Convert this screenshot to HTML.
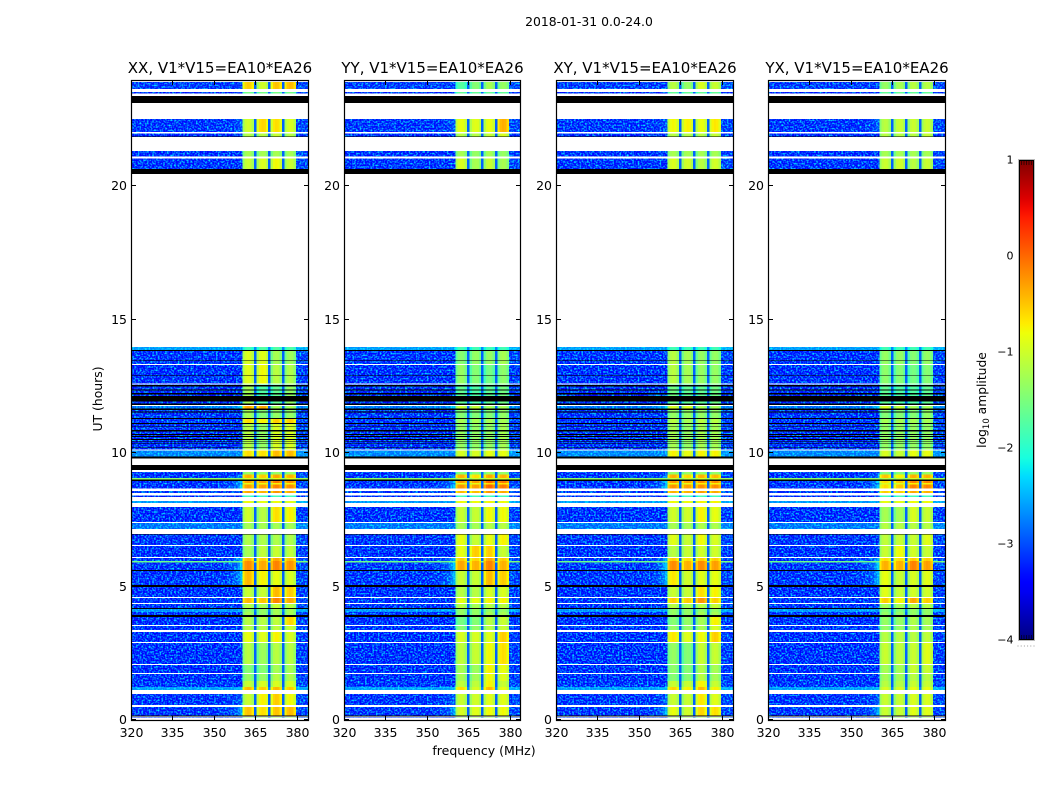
<!DOCTYPE html>
<html>
<head>
<meta charset="utf-8">
<title>2018-01-31 amplitude waterfall</title>
<style>
html,body{margin:0;padding:0;background:#fff;width:1050px;height:800px;overflow:hidden}
svg{display:block}
text{font-family:"DejaVu Sans","Liberation Sans",sans-serif;fill:#000}
</style>
</head>
<body>
<svg id="figure" xmlns="http://www.w3.org/2000/svg" width="1050" height="800" viewBox="0 0 1050 800">
<defs>
<filter id="speckle0" x="0" y="0" width="100%" height="100%" color-interpolation-filters="sRGB"><feTurbulence type="fractalNoise" baseFrequency="0.55 0.6" numOctaves="1" seed="3"/><feColorMatrix type="matrix" values="0 0 0 0 0  2.6 0 0 0 -1.1  0 0 0 0 0  0 0 0 0 1"/></filter>
<filter id="speckle1" x="0" y="0" width="100%" height="100%" color-interpolation-filters="sRGB"><feTurbulence type="fractalNoise" baseFrequency="0.55 0.6" numOctaves="1" seed="11"/><feColorMatrix type="matrix" values="0 0 0 0 0  2.6 0 0 0 -1.1  0 0 0 0 0  0 0 0 0 1"/></filter>
<filter id="speckle2" x="0" y="0" width="100%" height="100%" color-interpolation-filters="sRGB"><feTurbulence type="fractalNoise" baseFrequency="0.55 0.6" numOctaves="1" seed="23"/><feColorMatrix type="matrix" values="0 0 0 0 0  2.6 0 0 0 -1.1  0 0 0 0 0  0 0 0 0 1"/></filter>
<filter id="speckle3" x="0" y="0" width="100%" height="100%" color-interpolation-filters="sRGB"><feTurbulence type="fractalNoise" baseFrequency="0.55 0.6" numOctaves="1" seed="37"/><feColorMatrix type="matrix" values="0 0 0 0 0  2.6 0 0 0 -1.1  0 0 0 0 0  0 0 0 0 1"/></filter>
</defs>
<text x="589" y="26" font-size="12.4" text-anchor="middle">2018-01-31 0.0-24.0</text>
<text x="484" y="755" font-size="12.5" text-anchor="middle">frequency (MHz)</text>
<text x="0" y="0" font-size="12.4" text-anchor="middle" transform="translate(102,399) rotate(-90)">UT (hours)</text>
<text x="0" y="0" font-size="12.3" text-anchor="middle" transform="translate(986,400) rotate(-90)">log<tspan font-size="8.5" dy="3">10</tspan><tspan dy="-3"> amplitude</tspan></text>
<g id="panels"></g>
<g id="colorbar"></g>
</svg>
<script>
// ---- labels and ticks ----
const panelTitles = ["XX, V1*V15=EA10*EA26", "YY, V1*V15=EA10*EA26", "XY, V1*V15=EA10*EA26", "YX, V1*V15=EA10*EA26"];
const freqTicks = [320, 335, 350, 365, 380];
const timeTicks = [0, 5, 10, 15, 20];
const colorTicks = [-4, -3, -2, -1, 0, 1];

// ---- time rows holding data: [start hour, end hour] ----
const rowSpans = [
[.07,.10],[.16,.49],[.56,.97],[1.12,1.24],[1.24,1.46],[1.46,1.72],[1.76,2.06],[2.10,2.88],
[2.92,3.30],[3.37,3.52],[3.56,3.86],[3.93,4.04],[4.05,4.15],[4.19,4.34],[4.38,4.57],[4.61,4.98],
[5.06,5.58],[5.62,5.90],[5.90,5.95],[5.95,6.07],[6.10,6.52],[6.55,6.95],[7.15,7.38],[7.42,7.98],
[8.13,8.20],[8.35,8.41],[8.50,8.57],[8.68,8.82],[8.82,8.87],[8.87,8.95],[9.00,9.07],[9.07,9.20],
[9.20,9.29],[9.87,10.10],[10.14,11.09],[11.09,11.31],[11.31,11.67],[11.67,11.76],[11.80,12.57],[12.60,13.30],
[13.34,13.82],[13.86,13.97],[20.64,21.03],[21.10,21.31],[21.85,21.96],[22.02,22.51],[23.46,23.52],[23.63,23.90]];

// ---- log10 amplitude of the off-band background per row ----
const rowBackground = [
-3.3,-3.35,-3.35,-2.7,-3.35,-3.4,-3.4,-3.4,
-3.4,-3.35,-3.4,-3.35,-2.75,-3.35,-3.35,-3.4,
-3.35,-3.35,-1.6,-3.35,-3.4,-3.35,-2.95,-3.4,
-2.75,-3.45,-3.3,-3.35,-3.35,-3.35,-1.4,-3.35,
-3.35,-2.85,-3.35,-3.35,-3.35,-2.95,-3.35,-3.4,
-3.35,-2.7,-3.35,-3.35,-3.4,-3.35,-3.4,-3.3];

// ---- rise of the background next to the bands per row ----
const rowSkirt = [
0,.8,.3,.2,0,0,0,0,
0,0,0,0,0,0,0,0,
.9,1.1,0,.9,0,0,0,0,
0,0,0,1.1,.6,1.1,0,.5,
0,0,0,0,0,.6,0,0,
0,0,0,0,0,.3,0,0];

// ---- log10 amplitude of the four bands per row, one array per correlation ----
const bandsXX = [
[-1.2,-1.2,-1.2,-1.2],[-.45,-.6,-.45,-.4],[-1,-.7,-.5,-.75],[-.4,-.5,-.4,-.5],[-1,-.9,-.9,-.9],[-1.3,-1.3,-1.1,-1.15],[-1.4,-1.4,-1.2,-1.2],[-1.1,-1.25,-1.1,-1.1],
[-.8,-.85,-.7,-.9],[-1.1,-1.1,-1.05,-1],[-1.1,-1.1,-1.05,-.55],[-1.2,-1.3,-1.2,-1.2],[-1.3,-1.3,-1.2,-1.2],[-1.1,-1.2,-1,-1.1],[-.4,-.45,-.1,-.3],[-1,-1,-.4,-.5],
[-.4,-.7,-.8,-.9],[-.15,-.3,-.1,-.2],[-.15,-.3,-.1,-.2],[-.4,-.5,-.3,-.4],[-1.2,-1.05,-1,-1.05],[-1.15,-1.15,-1.15,-1.15],[-1.2,-1.2,-1.2,-1.2],[-.95,-1.1,-.6,-.7],
[-.75,-.8,-.75,-.8],[-1.8,-1.8,-1.8,-1.8],[-.3,-.35,-.2,-.3],[-.25,-.25,-.1,-.15],[-.8,-.8,-.7,-.7],[-.25,-.25,-.05,-.15],[-.9,-.9,-.8,-.8],[-.35,-.5,-.3,-.35],
[-1.3,-1.3,-1.3,-1.3],[-.6,-.6,-.4,-.4],[-1.1,-1.3,-.9,-.9],[-.6,-.7,-.5,-.5],[-1.2,-1.4,-1.3,-1.3],[-.3,-.3,-1.2,-1.2],[-1.2,-1.7,-1.6,-1.3],[-.85,-.75,-1.1,-1.15],
[-.9,-.85,-1.2,-1.25],[-1.8,-1.7,-1.7,-1.7],[-1,-.9,-.75,-1],[-1.2,-1.2,-1.2,-1.2],[-1.1,-1.1,-1,-1.1],[-.95,-.55,-.6,-.9],[-1.5,-1.5,-1.5,-1.5],[-.5,-.95,-.45,-.4]];
const bandsYY = [
[-1.2,-1.2,-1.2,-1.2],[-.9,-.85,-.75,-.75],[-1,-.95,-.85,-.85],[-.6,-.9,-.4,-.8],[-1.05,-1.05,-.7,-1],[-1.2,-1.2,-.75,-.85],[-1.2,-1.25,-.7,-.8],[-1.05,-1,-.75,-.6],
[-.9,-.9,-.85,-.5],[-1.4,-1.3,-1.1,-1],[-1.5,-1.4,-1.1,-1],[-1.3,-1.3,-1.2,-1.2],[-1.3,-1.3,-1.3,-1.3],[-1.1,-1.2,-1.1,-1.1],[-.8,-.8,-.7,-.7],[-1.1,-1.1,-.9,-.9],
[-1,-1,-.4,-.5],[-.3,-.35,-.1,-.35],[-.3,-.35,-.1,-.35],[-.5,-.55,-.3,-.5],[-.8,-.5,-.5,-1],[-.8,-1,-.8,-.7],[-1.2,-1.2,-1.1,-1.1],[-1,-1,-.75,-.75],
[-.75,-.75,-.7,-.75],[-1.8,-1.8,-1.8,-1.8],[-.4,-.4,-.2,-.3],[-.2,-.25,.05,-.05],[-.8,-.8,-.6,-.6],[-.2,-.25,.05,-.05],[-1,-1,-.9,-.9],[-.35,-.6,-.3,-.35],
[-1.4,-1.4,-1.3,-1.3],[-.9,-.9,-.8,-.8],[-1.3,-1.3,-1.3,-1.2],[-1.2,-1.2,-1.2,-1.2],[-1.4,-1.4,-1.4,-1.3],[-1,-1,-1.2,-1.2],[-1.6,-1.7,-1.6,-1.5],[-1.3,-1.4,-1.5,-1.35],
[-1.4,-1.3,-1.3,-1.2],[-1.8,-1.8,-1.8,-1.8],[-.9,-1.2,-1,-1.2],[-1.2,-1.3,-1.2,-1.3],[-1.1,-1.1,-1,-.9],[-.8,-.85,-.8,-.35],[-1.6,-1.6,-1.6,-1.6],[-1.7,-1.4,-1.2,-1.3]];
const bandsXY = [
[-1.2,-1.2,-1.2,-1.2],[-.8,-.95,-.55,-.6],[-1,-1,-.65,-.85],[-.55,-.7,-.4,-.7],[-1,-1,-.7,-1],[-1.4,-1.4,-1.1,-1.2],[-1.35,-1.4,-1.15,-1.2],[-1.3,-1.4,-1,-1],
[-.65,-.85,-.75,-.5],[-1.3,-1.3,-1.2,-.9],[-1.4,-1.3,-1.2,-.7],[-1.3,-1.3,-1.2,-1.2],[-1.3,-1.3,-1.3,-1.3],[-1.1,-1.2,-1.1,-1],[-.5,-.5,-.2,-.5],[-1,-1,-.6,-.7],
[-.65,-.95,-.85,-.8],[-.15,-.35,-.15,-.25],[-.15,-.35,-.15,-.25],[-.5,-.6,-.5,-.5],[-1.1,-1,-.95,-.95],[-.85,-1,-.75,-.9],[-1.2,-1.2,-1.15,-1.15],[-.95,-.95,-.7,-.8],
[-.75,-.75,-.7,-.7],[-1.8,-1.8,-1.8,-1.8],[-.35,-.35,-.25,-.3],[-.2,-.25,-.15,-.15],[-.8,-.8,-.7,-.7],[-.2,-.25,-.15,-.15],[-1,-1,-.9,-.9],[-.35,-.55,-.35,-.4],
[-1.3,-1.3,-1.3,-1.3],[-.7,-.8,-.7,-.7],[-1.2,-1.3,-1.2,-1.2],[-1.1,-1.2,-1.1,-1.1],[-1.3,-1.3,-1.3,-1.3],[-.9,-.9,-1.2,-1.2],[-1.5,-1.6,-1.6,-1.5],[-1.1,-1.2,-1.3,-1.3],
[-1.1,-1.2,-1.3,-1.3],[-1.8,-1.8,-1.8,-1.8],[-.9,-.95,-1.1,-.95],[-1.2,-1.2,-1.2,-1.2],[-1.1,-1.1,-1.1,-1],[-.75,-.7,-.8,-.65],[-1.6,-1.6,-1.6,-1.6],[-1.1,-1.3,-.9,-1]];
const bandsYX = [
[-1.2,-1.2,-1.2,-1.2],[-1,-1,-.85,-.85],[-1,-1,-.9,-.9],[-.9,-.9,-.8,-.8],[-1.1,-1.1,-1,-1],[-1.2,-1.2,-1.1,-1.1],[-1.2,-1.2,-1,-1],[-1,-1.05,-1,-.85],
[-1.1,-1.1,-1.1,-1.05],[-1.3,-1.3,-1.15,-1.2],[-1.3,-1.3,-1.15,-1.2],[-1.3,-1.3,-1.3,-1.3],[-1.4,-1.4,-1.3,-1.3],[-1.2,-1.2,-1.1,-1.1],[-.5,-.7,-.3,-.5],[-.85,-1,-.95,-.95],
[-.8,-1,-.9,-.85],[-.35,-.35,-.1,-.25],[-.35,-.35,-.1,-.25],[-.6,-.6,-.5,-.5],[-1,-.75,-.95,-1],[-1.05,-1,-1,-.85],[-1.1,-1.1,-1.1,-1.1],[-1.2,-1.2,-.9,-1],
[-.8,-.8,-.75,-.75],[-1.8,-1.8,-1.8,-1.8],[-.5,-.5,-.3,-.35],[-.6,-.45,-.1,-.1],[-.9,-.9,-.7,-.7],[-.6,-.45,-.1,-.1],[-1.1,-1.1,-.9,-.9],[-.45,-.7,-.35,-.35],
[-1.4,-1.4,-1.3,-1.3],[-.9,-1,-.8,-.8],[-1.3,-1.3,-1.3,-1.3],[-1.2,-1.2,-1.2,-1.2],[-1.4,-1.4,-1.4,-1.3],[-.9,-1,-1.2,-1.2],[-1.6,-1.7,-1.7,-1.6],[-1.35,-1.4,-1.5,-1.4],
[-1.3,-1.3,-1.4,-1.3],[-1.8,-1.8,-1.8,-1.8],[-1,-.95,-1.1,-1],[-1.2,-1.2,-1.2,-1.2],[-1.1,-1.1,-1.1,-1],[-1.1,-1,-1,-1],[-1.6,-1.6,-1.6,-1.6],[-1.3,-1.2,-1.1,-1.1]];
const panelBands = [bandsXX, bandsYY, bandsXY, bandsYX];

// ---- flagged (black) time ranges: [start hour, end hour] ----
const flaggedRows = [
[.13,.165],[3.86,3.93],[4.04,4.05],[4.15,4.19],[4.98,5.06],[5.58,5.62],[6.95,6.97],[8.95,9],
[9.36,9.55],[9.8,9.87],[10.19,10.21],[10.34,10.36],[10.41,10.43],[10.49,10.52],[10.6,10.63],[10.67,10.71],
[10.8,10.86],[10.97,11],[11.09,11.12],[11.27,11.31],[11.51,11.55],[11.61,11.67],[11.8,11.85],[11.92,12.13],
[12.2,12.24],[12.34,12.38],[12.5,12.54],[12.9,12.93],[13.44,13.47],[13.82,13.86],[20.45,20.64],[21.83,21.85],[23.1,23.37]];

// ---- spectral structure in MHz and level profiles ----
const bandStarts = [360.3, 365.45, 370.45, 375.45];
const bandProfile = [-.35, -.08, -.02, -.05, -.25];
const skirtEdges = [320, 352, 355, 357, 358.5, 359.5, 360.3];
const skirtProfile = [0, .05, .15, .3, .55, .85];
const gapLevel = -2.9;
const bandWidth = 4.15;

// ---- axis functions ----
const NS = "http://www.w3.org/2000/svg";
const panelLefts = [131, 344, 556, 768];
const panelWidths = [177, 176, 177, 177];
const plotTop = 81, plotBottom = 720;
const pxPerMHz = 2.765, pxPerHour = 26.7;
function xScale(freq, left) { return left + (freq - 320) * pxPerMHz; }
function yScale(hour) { return plotBottom - hour * pxPerHour; }
function jetPiece(t, pts) {
  for (let i = 1; i < pts.length; i++) {
    if (t <= pts[i][0]) {
      const a = pts[i - 1], b = pts[i];
      return a[1] + (b[1] - a[1]) * (t - a[0]) / (b[0] - a[0]);
    }
  }
  return pts[pts.length - 1][1];
}
function jet(t) {
  t = Math.max(0, Math.min(1, t));
  const r = jetPiece(t, [[0,0],[.35,0],[.66,1],[.89,1],[1,.5]]);
  const g = jetPiece(t, [[0,0],[.125,0],[.375,1],[.64,1],[.91,0],[1,0]]);
  const b = jetPiece(t, [[0,.5],[.11,1],[.34,1],[.65,0],[1,0]]);
  return "rgb(" + Math.round(r * 255) + "," + Math.round(g * 255) + "," + Math.round(b * 255) + ")";
}
function colorFor(level) { return jet((level + 4) / 5); }
function make(tag, attrs, parent) {
  const el = document.createElementNS(NS, tag);
  for (const k in attrs) el.setAttribute(k, attrs[k]);
  parent.appendChild(el);
  return el;
}

function addCell(parent, left, f0, f1, h0, h1, level) {
  const x0 = xScale(f0, left), x1 = xScale(f1, left);
  const y0 = yScale(h1), y1 = yScale(h0);
  const cell = make("rect", {x: x0.toFixed(2), y: y0.toFixed(2), width: (x1 - x0).toFixed(2), height: (y1 - y0).toFixed(2), fill: colorFor(level)}, parent);
  
  
}

const panelsRoot = document.getElementById("panels");
panelTitles.forEach(function (title, p) {
  const left = panelLefts[p];
  const panelWidth = panelWidths[p];
  const bands = panelBands[p];
  const group = make("g", {}, panelsRoot);
  
  

  const heat = make("g", {"shape-rendering": "crispEdges", style: "isolation:isolate"}, group);
  
  

  const paper = make("rect", {x: left, y: plotTop, width: panelWidth, height: plotBottom - plotTop, fill: "#fff"}, heat);
  
  

  rowSpans.forEach(function (span, r) {
    const h0 = span[0], h1 = span[1];
    const bg = rowBackground[r], skirt = rowSkirt[r];
    for (let i = 0; i < skirtProfile.length; i++) {
      addCell(heat, left, skirtEdges[i], skirtEdges[i + 1], h0, h1, bg + skirt * skirtProfile[i]);
    }
    bandStarts.forEach(function (start, b) {
      const step = bandWidth / bandProfile.length;
      bandProfile.forEach(function (offset, c) {
        addCell(heat, left, start + c * step, start + (c + 1) * step, h0, h1, bands[r][b] + offset);
      });
      const gapEnd = b < bandStarts.length - 1 ? bandStarts[b + 1] : start + bandWidth;
      if (gapEnd > start + bandWidth) {
        addCell(heat, left, start + bandWidth, gapEnd, h0, h1, Math.max(gapLevel, bg));
      }
    });
    addCell(heat, left, bandStarts[3] + bandWidth, 320 + panelWidth / pxPerMHz, h0, h1, bg + .1);
  });

  // receiver-noise grain laid over the off-band part of the spectrum
  [[320, bandStarts[0]], [bandStarts[3] + bandWidth, 320 + panelWidth / pxPerMHz]].forEach(function (range) {
    const grain = make("rect", {x: xScale(range[0], left).toFixed(2), y: plotTop, width: (xScale(range[1], left) - xScale(range[0], left)).toFixed(2), height: plotBottom - plotTop, fill: "#000", filter: "url(#speckle" + p + ")", style: "mix-blend-mode:screen"}, heat);
    
    
  });

  flaggedRows.forEach(function (span) {
    const flag = make("rect", {x: left, y: yScale(span[1]).toFixed(2), width: panelWidth, height: ((span[1] - span[0]) * pxPerHour).toFixed(2), fill: "#000"}, heat);
    
    
  });

  const frame = make("rect", {x: left + .5, y: plotTop - .5, width: panelWidth, height: plotBottom - plotTop + 1, fill: "none", stroke: "#000", "stroke-width": 1.2}, group);
  
  

  const t = make("text", {x: left + panelWidth / 2 + .5, y: 73, "font-size": 15, "text-anchor": "middle"}, group);
  t.textContent = title;
  
  

  freqTicks.forEach(function (f) {
    const x = Math.round(xScale(f, left)) + .5;
    [[plotBottom, plotBottom - 4], [plotTop, plotTop + 4]].forEach(function (seg) {
      const tick = make("line", {x1: x, x2: x, y1: seg[0], y2: seg[1], stroke: "#000", "stroke-width": 1}, group);
      
      
    });
    const lab = make("text", {x: x, y: 737, "font-size": 12.5, "text-anchor": "middle"}, group);
    lab.textContent = f;
    
    
  });

  timeTicks.forEach(function (h) {
    const y = Math.round(yScale(h)) - .5;
    [[left, left + 5], [left + panelWidth, left + panelWidth - 4]].forEach(function (seg) {
      const tick = make("line", {x1: seg[0], x2: seg[1], y1: y, y2: y, stroke: "#000", "stroke-width": 1}, group);
      
      
    });
    const lab = make("text", {x: left - 4, y: y + 4.5, "font-size": 12.5, "text-anchor": "end"}, group);
    lab.textContent = h;
    
    
  });
});

// ---- colorbar ----
const cbarRoot = document.getElementById("colorbar");
const cbarLeft = 1019, cbarWidth = 15, cbarTop = 160, cbarBottom = 640;
function cbarScale(level) { return cbarBottom - (level + 4) / 5 * (cbarBottom - cbarTop); }
const defs = make("defs", {}, cbarRoot);
const grad = make("linearGradient", {id: "jetRamp", x1: 0, y1: 1, x2: 0, y2: 0}, defs);
for (let i = 0; i <= 50; i++) {
  make("stop", {offset: i / 50, "stop-color": jet(i / 50)}, grad);
}
const bar = make("rect", {x: cbarLeft, y: cbarTop, width: cbarWidth, height: cbarBottom - cbarTop, fill: "url(#jetRamp)", stroke: "#bbb", "stroke-width": 2}, cbarRoot);


const barEdge = make("rect", {x: cbarLeft + .5, y: cbarTop + .5, width: cbarWidth - 1, height: cbarBottom - cbarTop - 1, fill: "none", stroke: "#000", "stroke-width": 1}, cbarRoot);


colorTicks.forEach(function (v) {
  const y = cbarScale(v);
  const lab = make("text", {x: 1013.5, y: y + 3.5, "font-size": 11, "text-anchor": "end"}, cbarRoot);
  lab.textContent = v < 0 ? "\u2212" + Math.abs(v) : String(v);
  
  
});
[0, 1, 2, 3, 4].forEach(function (n) {
  const x = cbarLeft + 2.5 + n * 2.5;
  [[cbarTop, cbarTop + 5], [cbarBottom, cbarBottom - 5]].forEach(function (seg) {
    const minor = make("line", {x1: x, x2: x, y1: seg[0], y2: seg[1], stroke: "#000", "stroke-width": .8, opacity: .7}, cbarRoot);
    
    
  });
});
[0, 1, 2, 3, 4, 5].forEach(function (n) {
  const dot = make("rect", {x: 1017.5 + n * 3.2, y: 645.5, width: 1, height: 1, fill: "#999"}, cbarRoot);
  
  
});
</script>
</body>
</html>
